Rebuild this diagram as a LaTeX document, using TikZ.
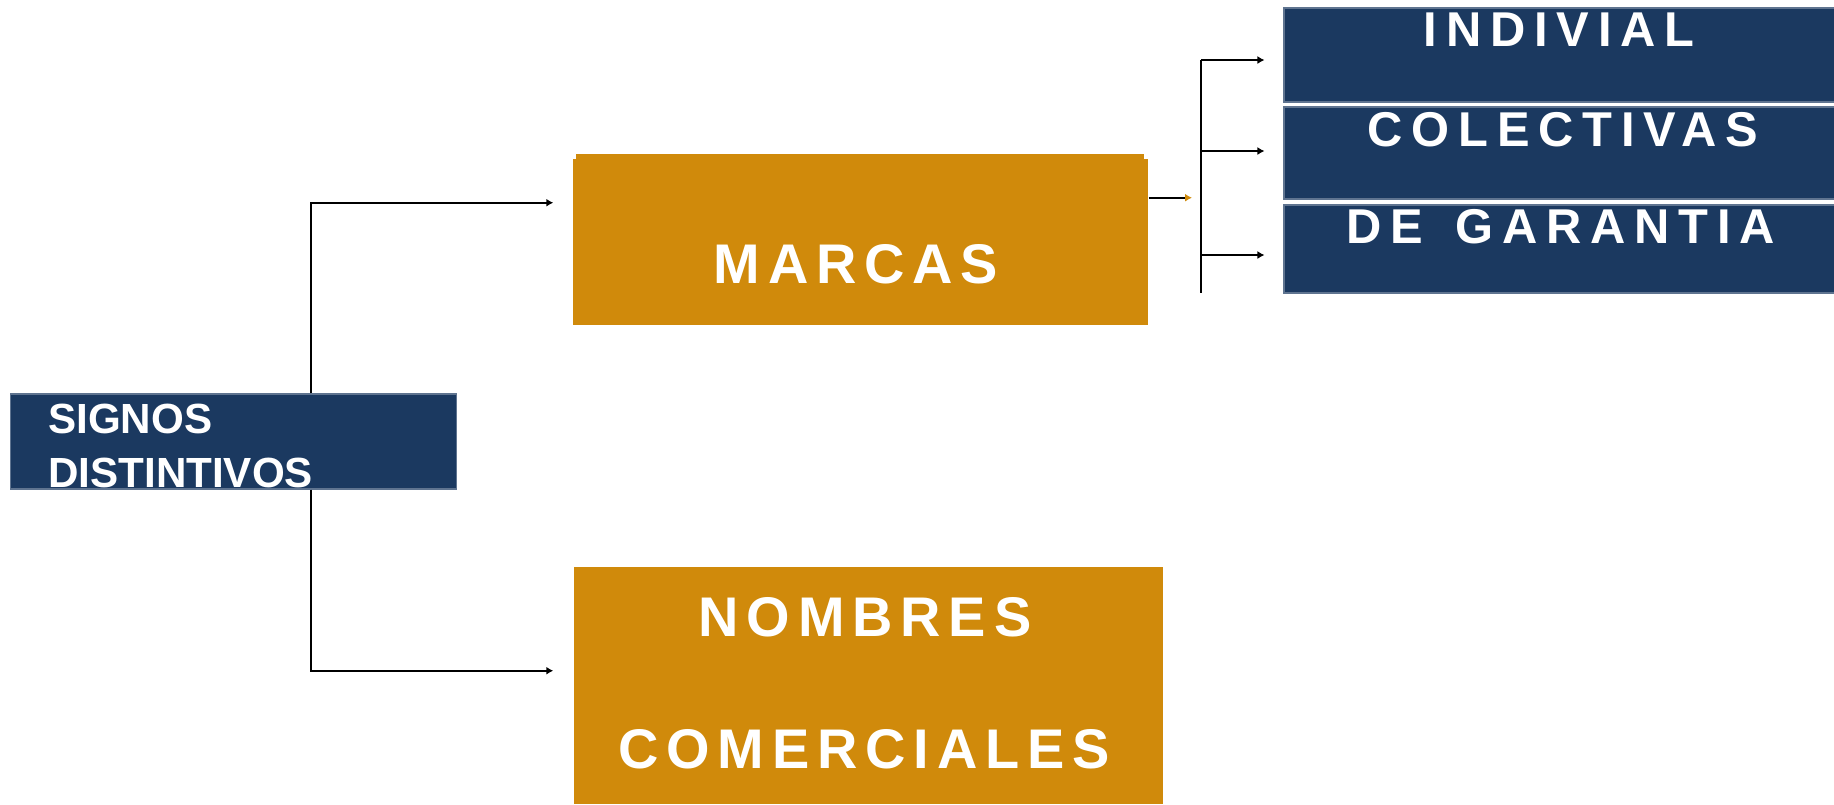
\documentclass[tikz,border=0pt]{standalone}
\usepackage{fontspec}
\setmainfont{Liberation Sans}
\newfontfamily\trackA{Liberation Sans}[LetterSpace=14]
\newfontfamily\trackB{Liberation Sans}[LetterSpace=18]
\usetikzlibrary{arrows.meta, positioning, calc}
\definecolor{navy}{RGB}{27,57,96}
\definecolor{gold}{RGB}{208,138,11}

\begin{document}
\begin{tikzpicture}
      \tikzset{ navybox/.style={fill=navy, draw=navy!70!white, line width=0.3pt, inner sep=0pt                                  } }
      \tikzset{ goldbox/.style={fill=gold, inner sep=0pt                                                                         } }
      \tikzset{ bigtxt/.style ={text=white, anchor=base, inner sep=0pt, font=\trackA\bfseries\fontsize{15.9}{18}\selectfont       } }
      \tikzset{ subtxt/.style ={text=white, anchor=base, inner sep=0pt, font=\trackB\bfseries\fontsize{13.9}{16}\selectfont       } }
      \tikzset{ sidetxt/.style={text=white, anchor=base west, inner sep=0pt, font=\bfseries\fontsize{12}{14}\selectfont            } }
      \tikzset{ wire/.style   ={draw=black, line width=0.6pt                                                                     } }
      \tikzset{ link/.style   ={wire, -{Latex[length=0.7mm,width=0.8mm]}                                                         } }

      \path[use as bounding box] (0,0) rectangle (18.34,-8.04);

      % boxes
      \node[navybox, minimum width=4.46cm, minimum height=0.95cm] (signos)  at ( 2.335,-4.415) {};
      \node[goldbox, minimum width=5.75cm, minimum height=1.66cm] (marcas)  at ( 8.605,-2.420) {};
      \node[goldbox, minimum width=5.89cm, minimum height=2.37cm] (nombres) at ( 8.685,-6.855) {};
      \node[navybox, minimum width=5.50cm, minimum height=0.94cm] (indiv)   at (15.590,-0.550) {};
      \node[navybox, minimum width=5.50cm, minimum height=0.92cm] (colect)  at (15.590,-1.530) {};
      \node[navybox, minimum width=5.50cm, minimum height=0.88cm] (garant)  at (15.590,-2.490) {};
      \fill[gold] ([xshift=0.04cm,yshift=-0.03cm]marcas.north west) rectangle ([xshift=-0.05cm,yshift=0.045cm]marcas.north east);

      % texts
      \node[sidetxt] (signosA)  at ( 0.475,-4.33) {SIGNOS};
      \node[sidetxt] (signosB)  at ( 0.475,-4.87) {DISTINTIVOS};
      \node[bigtxt]  (marcasT)  at ( 8.56, -2.83) {MARCAS};
      \node[bigtxt]  (nombresT) at ( 8.65, -6.36) {NOMBRES};
      \node[bigtxt]  (comercT)  at ( 8.64, -7.68) {COMERCIALES};
      \node[subtxt]  (indivT)   at (15.59, -0.46) {INDIVIAL};
      \node[subtxt]  (colectT)  at (15.63, -1.46) {COLECTIVAS};
      \node[subtxt]  (garantT)  at (15.61, -2.43) {DE\hspace{0.1cm} GARANTIA};

      % connectors
      \draw[link] ([xshift=0.775cm]signos.north) |- ([xshift=-0.19cm,yshift=0.393cm]marcas.west);
      \draw[link] ([xshift=0.775cm]signos.south) |- ([xshift=-0.20cm,yshift=0.148cm]nombres.west);

      \coordinate (mout) at ([yshift=0.443cm]marcas.east);
      \coordinate (b1)   at (12.01,-0.60);
      \coordinate (b2)   at (12.01,-1.51);
      \coordinate (b3)   at (12.01,-2.55);
      \coordinate (b4)   at (12.01,-2.93);
      \draw[wire] (b1) -- (b4);
      \draw[wire, -{Latex[length=0.7mm,width=0.8mm,color=gold]}] (mout) -- ([xshift=-0.09cm]mout -| b1);
      \draw[link] (b1) -- ([xshift=-0.19cm]b1 -| indiv.west);
      \draw[link] (b2) -- ([xshift=-0.19cm]b2 -| colect.west);
      \draw[link] (b3) -- ([xshift=-0.19cm]b3 -| garant.west);
\end{tikzpicture}
\end{document}
